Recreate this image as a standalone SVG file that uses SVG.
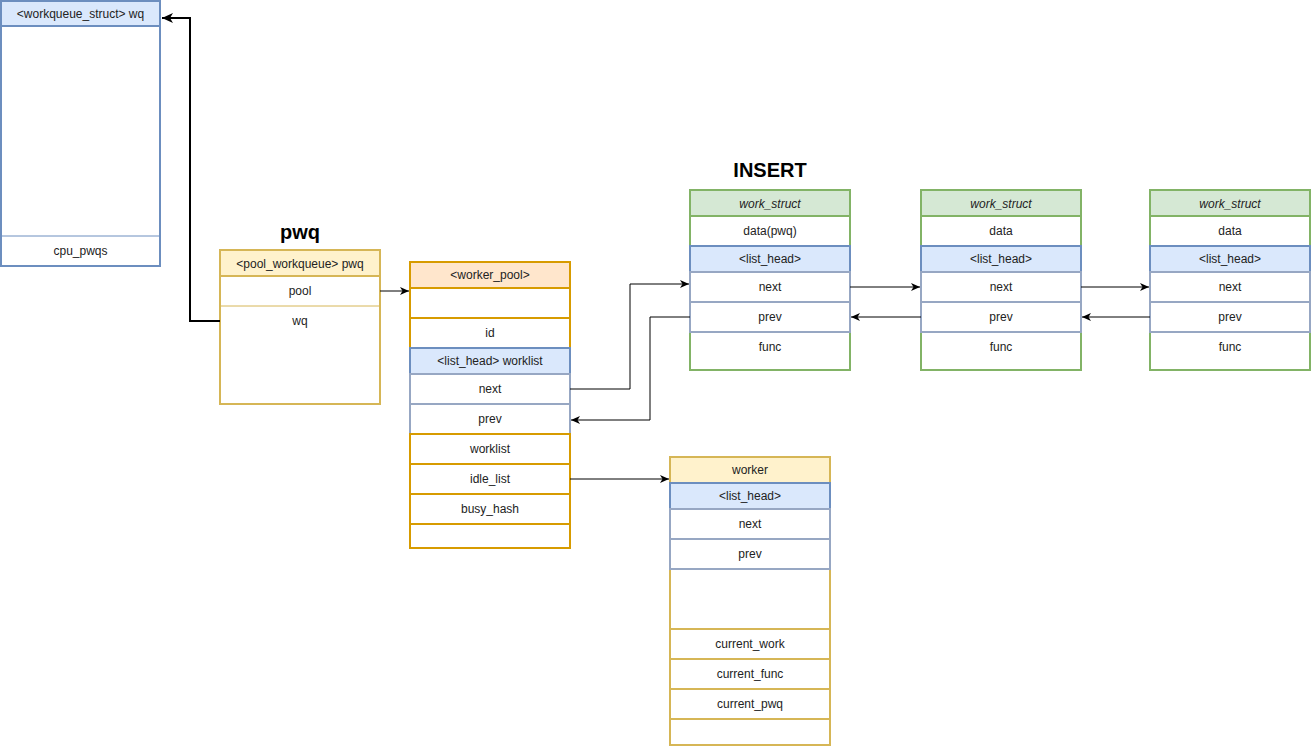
<svg xmlns="http://www.w3.org/2000/svg" width="1312" height="747" viewBox="0 0 1312 747">
<style>
text{font-family:"Liberation Sans",Arial,sans-serif;font-size:12px;fill:#222;text-anchor:middle;dominant-baseline:central}
.title{font-size:20px;font-weight:bold;fill:#000}
.it{font-style:italic}
.blueH{fill:#dae8fc;stroke:#6c8ebf;stroke-width:2}
.blueR{fill:#fff;stroke:#97a7c3;stroke-width:2}
.orH{fill:#ffe6cc;stroke:#d79b00;stroke-width:2}
.orR{fill:#fff;stroke:#d79b00;stroke-width:2}
.yeH{fill:#fff2cc;stroke:#d6b656;stroke-width:2}
.yeR{fill:#fff;stroke:#d6b656;stroke-width:2}
.grH{fill:#d5e8d4;stroke:#82b366;stroke-width:2}
.grR{fill:#fff;stroke:#82b366;stroke-width:2}
.wqB{fill:#fff;stroke:#6c8ebf;stroke-width:2}
.thin{stroke-width:1}
.c{fill:none;stroke:#000;stroke-width:1}
.ct{fill:none;stroke:#000;stroke-width:2}
</style>
<defs>
<marker id="ah" markerWidth="10" markerHeight="8" refX="9" refY="4" orient="auto" markerUnits="userSpaceOnUse">
<path d="M0,0 L9,4 L0,8 L2.5,4 Z" fill="#000"/>
</marker>
<marker id="ahb" markerWidth="12" markerHeight="10" refX="11" refY="5" orient="auto" markerUnits="userSpaceOnUse">
<path d="M0,0 L11,5 L0,10 L3,5 Z" fill="#000"/>
</marker>
</defs>

<g id="workqueue_struct">
<rect class="wqB" x="1" y="1" width="159" height="265"/>
<rect class="blueH" x="1" y="1" width="159" height="25"/>
<text x="80.5" y="13.5">&lt;workqueue_struct&gt; wq</text>
<line x1="1" y1="236" x2="160" y2="236" stroke="#6c8ebf" stroke-width="1"/>
<text x="80.5" y="251">cpu_pwqs</text>
</g>

<g id="pwq">
<text class="title" x="300" y="232">pwq</text>
<rect class="yeR" x="220" y="250" width="160" height="154"/>
<rect class="yeH" x="220" y="250" width="160" height="26"/>
<text x="300" y="263.5">&lt;pool_workqueue&gt; pwq</text>
<text x="300" y="291">pool</text>
<line x1="220" y1="306" x2="380" y2="306" stroke="#d6b656" stroke-width="1"/>
<text x="300" y="321">wq</text>
</g>

<g id="worker_pool">
<rect class="orR" x="410" y="262" width="160" height="286"/>
<rect class="orH" x="410" y="262" width="160" height="26"/>
<text x="490" y="275">&lt;worker_pool&gt;</text>
<rect class="orR" x="410" y="288" width="160" height="30"/>
<rect class="orR" x="410" y="318" width="160" height="30"/>
<text x="490" y="333">id</text>
<rect class="blueH" x="410" y="348" width="160" height="26"/>
<text x="490" y="361">&lt;list_head&gt; worklist</text>
<rect class="blueR" x="410" y="374" width="160" height="30"/>
<text x="490" y="389">next</text>
<rect class="blueR" x="410" y="404" width="160" height="30"/>
<text x="490" y="419">prev</text>
<rect class="orR" x="410" y="434" width="160" height="30"/>
<text x="490" y="449">worklist</text>
<rect class="orR" x="410" y="464" width="160" height="30"/>
<text x="490" y="479">idle_list</text>
<rect class="orR" x="410" y="494" width="160" height="30"/>
<text x="490" y="509">busy_hash</text>
<rect class="orR" x="410" y="524" width="160" height="24"/>
</g>

<text class="title" x="770" y="170">INSERT</text>

<g id="work_struct_1">
<rect class="grR" x="690" y="190" width="160" height="180"/>
<rect class="grH" x="690" y="190" width="160" height="26"/>
<text class="it" x="770" y="203.5">work_struct</text>
<text x="770" y="231">data(pwq)</text>
<rect class="blueH" x="690" y="246" width="160" height="26"/>
<text x="770" y="259">&lt;list_head&gt;</text>
<rect class="blueR" x="690" y="272" width="160" height="30"/>
<text x="770" y="287">next</text>
<rect class="blueR" x="690" y="302" width="160" height="30"/>
<text x="770" y="317">prev</text>
<text x="770" y="347">func</text>
</g>

<g id="work_struct_2">
<rect class="grR" x="921" y="190" width="160" height="180"/>
<rect class="grH" x="921" y="190" width="160" height="26"/>
<text class="it" x="1001" y="203.5">work_struct</text>
<text x="1001" y="231">data</text>
<rect class="blueH" x="921" y="246" width="160" height="26"/>
<text x="1001" y="259">&lt;list_head&gt;</text>
<rect class="blueR" x="921" y="272" width="160" height="30"/>
<text x="1001" y="287">next</text>
<rect class="blueR" x="921" y="302" width="160" height="30"/>
<text x="1001" y="317">prev</text>
<text x="1001" y="347">func</text>
</g>

<g id="work_struct_3">
<rect class="grR" x="1150" y="190" width="160" height="180"/>
<rect class="grH" x="1150" y="190" width="160" height="26"/>
<text class="it" x="1230" y="203.5">work_struct</text>
<text x="1230" y="231">data</text>
<rect class="blueH" x="1150" y="246" width="160" height="26"/>
<text x="1230" y="259">&lt;list_head&gt;</text>
<rect class="blueR" x="1150" y="272" width="160" height="30"/>
<text x="1230" y="287">next</text>
<rect class="blueR" x="1150" y="302" width="160" height="30"/>
<text x="1230" y="317">prev</text>
<text x="1230" y="347">func</text>
</g>

<g id="worker">
<rect class="yeR" x="670" y="457" width="160" height="288"/>
<rect class="yeH" x="670" y="457" width="160" height="26"/>
<text x="750" y="470">worker</text>
<rect class="blueH" x="670" y="483" width="160" height="26"/>
<text x="750" y="496">&lt;list_head&gt;</text>
<rect class="blueR" x="670" y="509" width="160" height="30"/>
<text x="750" y="524">next</text>
<rect class="blueR" x="670" y="539" width="160" height="30"/>
<text x="750" y="554">prev</text>
<rect class="yeR" x="670" y="629" width="160" height="30"/>
<text x="750" y="644">current_work</text>
<rect class="yeR" x="670" y="659" width="160" height="30"/>
<text x="750" y="674">current_func</text>
<rect class="yeR" x="670" y="689" width="160" height="30"/>
<text x="750" y="704">current_pwq</text>
</g>

<g id="connectors">
<path class="ct" d="M220,321 H190 V18 H162" marker-end="url(#ahb)"/>
<path class="c" d="M380,291 H409" marker-end="url(#ah)"/>
<path class="c" d="M570,389 H630 V284 H689" marker-end="url(#ah)"/>
<path class="c" d="M690,317 H650 V420 H571" marker-end="url(#ah)"/>
<path class="c" d="M850,287 H920" marker-end="url(#ah)"/>
<path class="c" d="M921,317 H851" marker-end="url(#ah)"/>
<path class="c" d="M1081,287 H1149" marker-end="url(#ah)"/>
<path class="c" d="M1150,317 H1082" marker-end="url(#ah)"/>
<path class="c" d="M570,479 H669" marker-end="url(#ah)"/>
</g>
</svg>
